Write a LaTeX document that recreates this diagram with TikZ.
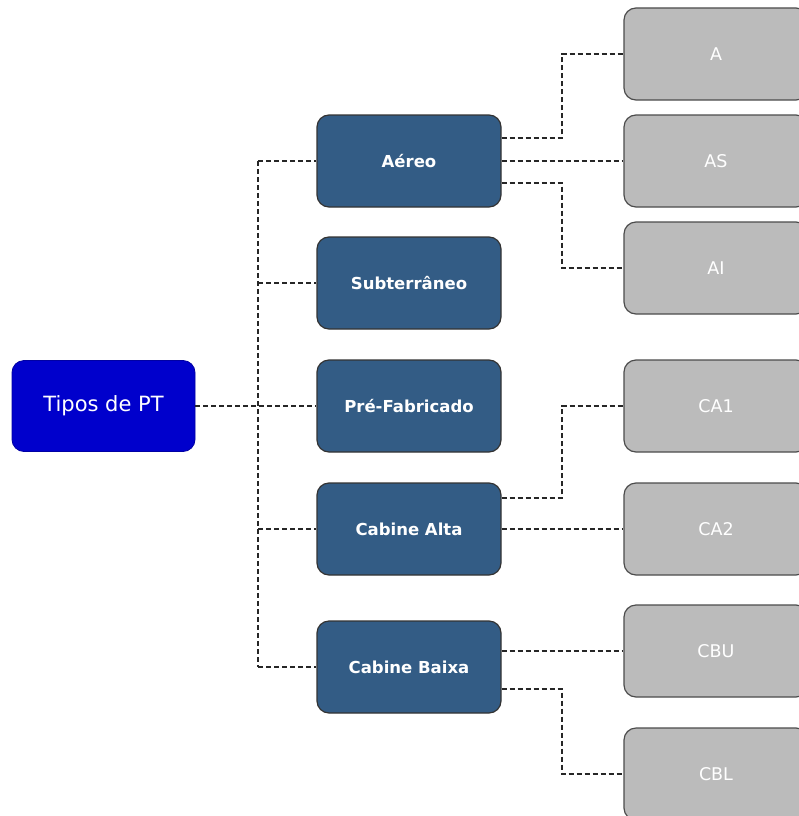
\documentclass[tikz,border=0pt]{standalone}
\usepackage{fontspec}
\setmainfont{DejaVu Sans}
\begin{document}
\begin{tikzpicture}[x=1pt,y=-1pt,
  rootbox/.style={draw=rootc!80!black,fill=rootc,rounded corners=12pt,minimum width=183pt,minimum height=91pt,text=white,font=\fontsize{21}{23}\selectfont,line width=0.8pt},
  midbox/.style={draw=black!80,fill=midc,rounded corners=12pt,minimum width=184pt,minimum height=92pt,text=white,font=\bfseries\fontsize{16.5}{18}\selectfont,line width=1.2pt},
  leafbox/.style={draw=black!70,fill=leafc,rounded corners=12pt,minimum width=184pt,minimum height=92pt,text=white,font=\fontsize{17.5}{19}\selectfont,line width=1.2pt},
  link/.style={draw=black!85,line width=1.3pt,dash pattern=on 5pt off 3pt}]
\definecolor{rootc}{HTML}{0000CC}
\definecolor{midc}{HTML}{335C85}
\definecolor{leafc}{HTML}{BBBBBB}
\useasboundingbox (0,0) rectangle (799,816);
\clip (0,0) rectangle (799,816);
\node[rootbox] (root) at (103.5,406) {Tipos de PT};
\node[midbox] (aer) at (409,161) {Aéreo};
\node[midbox] (sub) at (409,283) {Subterrâneo};
\node[midbox] (pre) at (409,406) {Pré-Fabricado};
\node[midbox] (cal) at (409,529) {Cabine Alta};
\node[midbox] (cba) at (409,667) {Cabine Baixa};
\node[leafbox] (a) at (716,54) {A};
\node[leafbox] (as) at (716,161) {AS};
\node[leafbox] (ai) at (716,268) {AI};
\node[leafbox] (ca1) at (716,406) {CA1};
\node[leafbox] (ca2) at (716,529) {CA2};
\node[leafbox] (cbu) at (716,651) {CBU};
\node[leafbox] (cbl) at (716,774) {CBL};
\coordinate (ttop) at (258,161);
\coordinate (tbot) at (258,667);
\draw[link] (ttop) -- (tbot);
\draw[link] (root.east) -- (pre.west);
\draw[link] (ttop) -- (aer.west);
\draw[link] (258,283) -- (sub.west);
\draw[link] (258,529) -- (cal.west);
\draw[link] (tbot) -- (cba.west);
\draw[link] ([yshift=23pt]aer.east) -| (562,54) -- (a.west);
\draw[link] (aer.east) -- (as.west);
\draw[link] ([yshift=-22pt]aer.east) -| (562,268) -- (ai.west);
\draw[link] ([yshift=31pt]cal.east) -| (562,406) -- (ca1.west);
\draw[link] (cal.east) -- (ca2.west);
\draw[link] ([yshift=16pt]cba.east) -- (cbu.west);
\draw[link] ([yshift=-22pt]cba.east) -| (562,774) -- (cbl.west);
\end{tikzpicture}
\end{document}
